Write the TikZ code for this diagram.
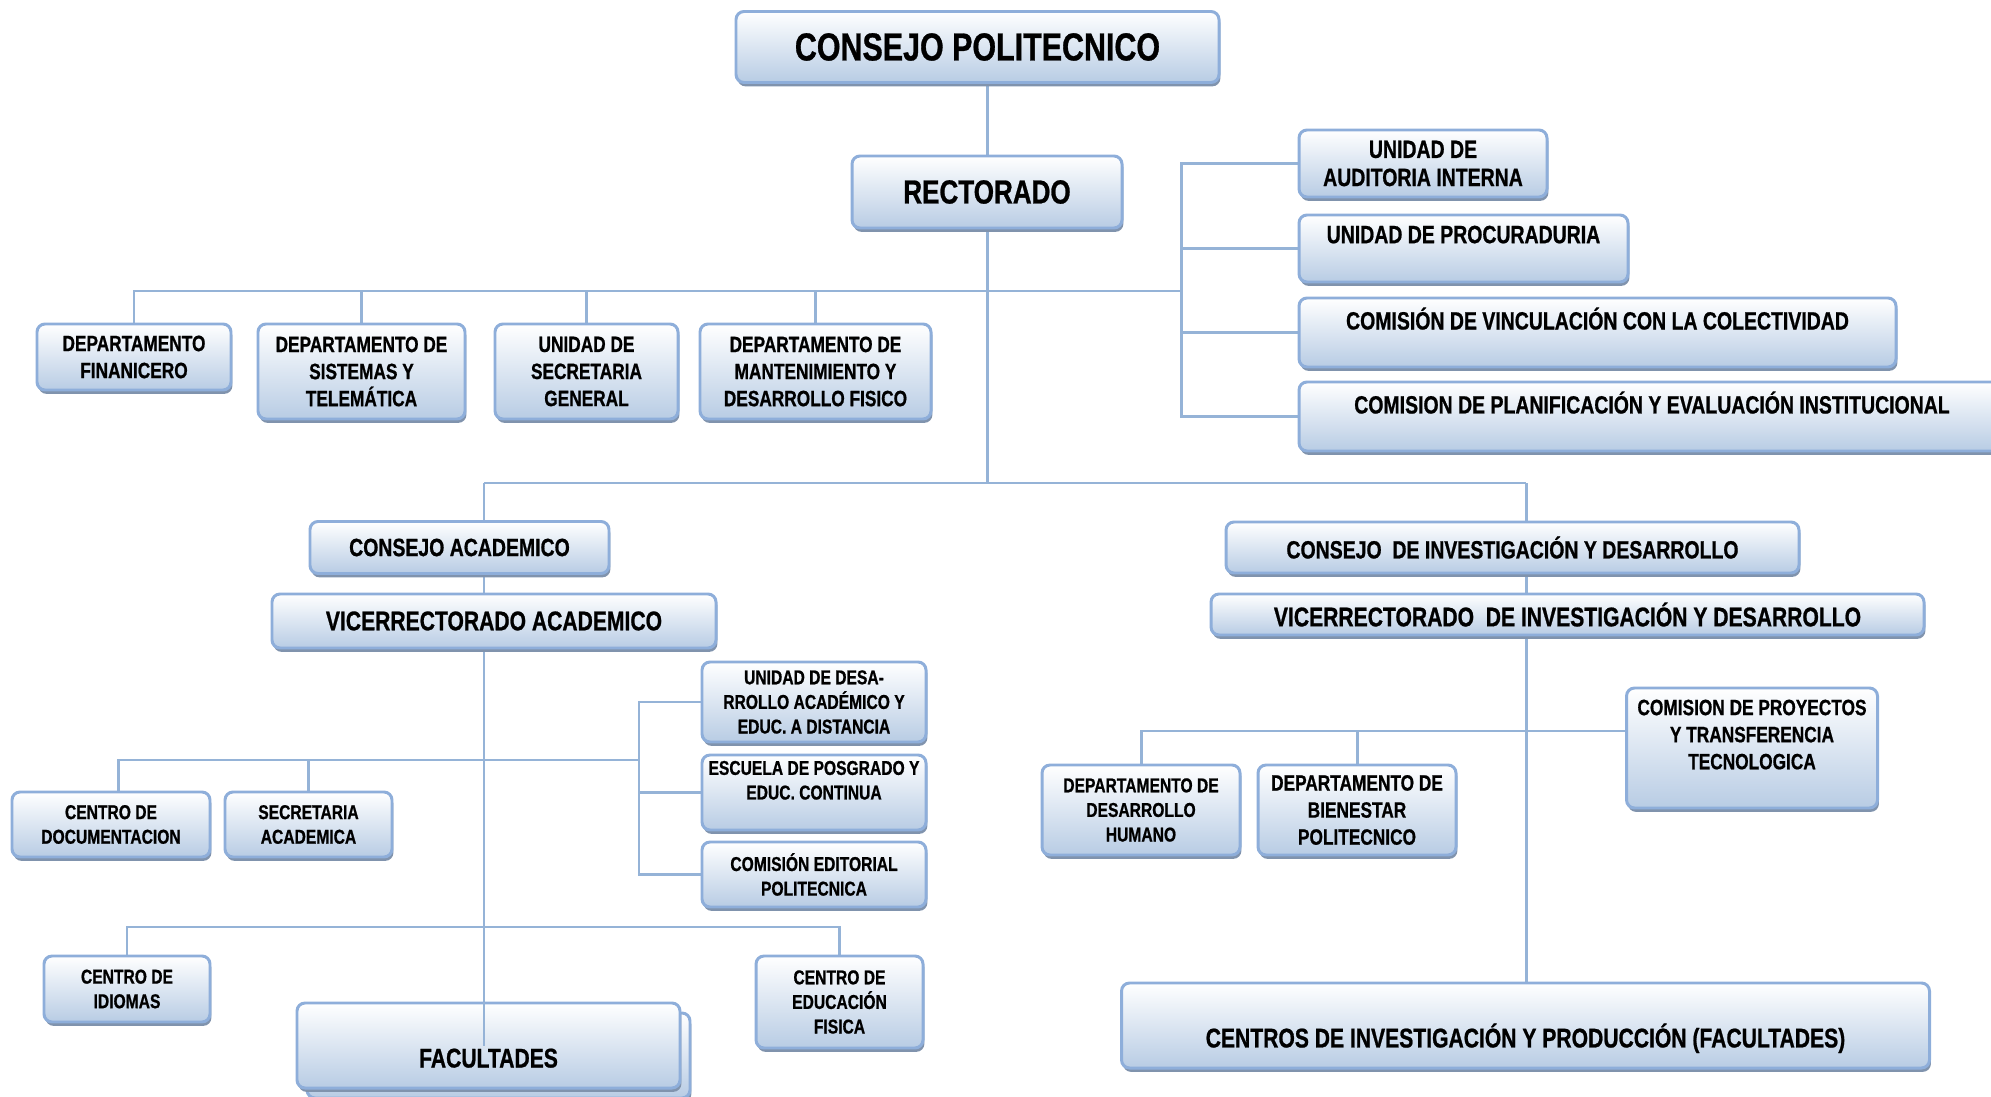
\documentclass[tikz,border=0pt]{standalone}
\usepackage{fontspec}
\setmainfont{Liberation Sans}[FakeStretch=0.78, BoldFeatures={FakeBold=0.8}]
\usetikzlibrary{shadows,backgrounds}
\definecolor{orgline}{HTML}{95B3D7}
\definecolor{orgedge}{HTML}{8EAEDA}
\definecolor{orgfill}{HTML}{B8CCE4}
\definecolor{orgshadow}{HTML}{8093AD}

\begin{document}
\begin{tikzpicture}[x=1cm, y=-1cm,
    conn/.style={draw=orgline, line width=0.85pt},
    box/.style={draw=orgedge, line width=0.85pt, rounded corners=2.3pt,
        top color=white, bottom color=orgfill,
        drop shadow={shadow xshift=0.4pt, shadow yshift=-1.1pt, fill=orgshadow, opacity=1},
        align=center, inner sep=0pt},
    sz/.style 2 args={minimum width=#1cm, minimum height=#2cm},
    ftitle/.style={font=\bfseries\fontsize{11.1}{13}\selectfont},
    frect/.style={font=\bfseries\fontsize{9.5}{11}\selectfont},
    fbig/.style={font=\bfseries\fontsize{7.7}{9}\selectfont},
    fmid/.style={font=\bfseries\fontsize{7.1}{8}\selectfont},
    fsmall/.style={font=\bfseries\fontsize{6.3}{7.7}\selectfont},
    ftiny/.style={font=\bfseries\fontsize{5.7}{7}\selectfont}]
    \useasboundingbox (0,0) rectangle (19.91,10.97);
    \clip (0,0) rectangle (19.91,10.97);

    \coordinate (rbus) at (11.81,2.91);
    \coordinate (la) at (4.84,4.83);
    \coordinate (ra) at (15.26,4.83);
    \coordinate (lb) at (6.39,7.60);
    \coordinate (lc) at (4.84,9.27);
    \coordinate (rc) at (15.26,7.31);

    \node[box, ftitle, sz={4.83}{0.71}] (cp) at (9.775,0.47) {CONSEJO POLITECNICO};
    \node[box, frect, sz={2.70}{0.72}] (rect) at (9.87,1.92) {RECTORADO};

    \node[box, fmid, sz={2.48}{0.67}] (aud) at (14.23,1.635) {UNIDAD DE\\AUDITORIA INTERNA};
    \node[box, fmid, sz={3.29}{0.67}] (proc) at (14.635,2.485) {UNIDAD DE PROCURADURIA\\\mbox{}};
    \node[box, fmid, sz={5.97}{0.69}] (vinc) at (15.975,3.325) {COMISIÓN DE VINCULACIÓN CON LA COLECTIVIDAD\\\mbox{}};
    \node[box, fmid, sz={7.06}{0.69}] (plan) at (16.52,4.165) {COMISION DE PLANIFICACIÓN Y EVALUACIÓN INSTITUCIONAL\\\mbox{}};

    \node[box, fsmall, sz={1.94}{0.66}] (fin) at (1.34,3.57) {DEPARTAMENTO\\FINANICERO};
    \node[box, fsmall, sz={2.07}{0.95}] (sist) at (3.615,3.715) {DEPARTAMENTO DE\\SISTEMAS Y\\TELEMÁTICA};
    \node[box, fsmall, sz={1.83}{0.95}] (secg) at (5.865,3.715) {UNIDAD DE\\SECRETARIA\\GENERAL};
    \node[box, fsmall, sz={2.31}{0.95}] (mant) at (8.155,3.715) {DEPARTAMENTO DE\\MANTENIMIENTO Y\\DESARROLLO FISICO};

    \node[box, fmid, sz={2.99}{0.52}] (cacad) at (4.595,5.475) {CONSEJO ACADEMICO};
    \node[box, fbig, sz={4.44}{0.54}] (vicea) at (4.94,6.21) {VICERRECTORADO ACADEMICO};
    \node[box, ftiny, sz={2.24}{0.80}] (udesa) at (8.14,7.02) {UNIDAD DE DESA-\\RROLLO ACADÉMICO Y\\EDUC. A DISTANCIA};
    \node[box, ftiny, sz={2.24}{0.75}] (escu) at (8.14,7.925) {ESCUELA DE POSGRADO Y\\EDUC. CONTINUA\\\mbox{}};
    \node[box, ftiny, sz={2.24}{0.65}] (cedit) at (8.14,8.745) {COMISIÓN EDITORIAL\\POLITECNICA};
    \node[box, ftiny, sz={1.98}{0.65}] (cdoc) at (1.11,8.245) {CENTRO DE\\DOCUMENTACION};
    \node[box, ftiny, sz={1.67}{0.65}] (secac) at (3.085,8.245) {SECRETARIA\\ACADEMICA};
    \node[box, ftiny, sz={1.66}{0.66}] (cidi) at (1.27,9.89) {CENTRO DE\\IDIOMAS};
    \node[box, ftiny, sz={1.67}{0.92}] (cedu) at (8.395,10.02) {CENTRO DE\\EDUCACIÓN\\FISICA};
    \node[box, sz={3.83}{0.85}] (facb) at (4.985,10.555) {};
    \node[box, fbig, sz={3.83}{0.85}] (fac) at (4.885,10.455) {\mbox{}\\[3.6pt]FACULTADES};

    \node[box, fmid, sz={5.73}{0.51}] (cinv) at (15.125,5.475) {CONSEJO\ \ DE INVESTIGACIÓN Y DESARROLLO};
    \node[box, fbig, sz={7.13}{0.41}] (vinv) at (15.675,6.145) {VICERRECTORADO\ \ DE INVESTIGACIÓN Y DESARROLLO};
    \node[box, ftiny, sz={1.98}{0.90}] (dhum) at (11.41,8.10) {DEPARTAMENTO DE\\DESARROLLO\\HUMANO};
    \node[box, fsmall, sz={1.98}{0.90}] (dbien) at (13.57,8.10) {DEPARTAMENTO DE\\BIENESTAR\\POLITECNICO};
    \node[box, fsmall, sz={2.51}{1.20}] (cproy) at (17.52,7.48) {COMISION DE PROYECTOS\\Y TRANSFERENCIA\\TECNOLOGICA\\\mbox{}};
    \node[box, fbig, sz={8.08}{0.85}] (ccent) at (15.255,10.255) {\mbox{}\\[5.1pt]CENTROS DE INVESTIGACIÓN Y PRODUCCIÓN (FACULTADES)};

    \begin{scope}[on background layer]
        \draw[conn] (rect.north) -- (rect.north |- cp.south);
        \draw[conn] (rect.south) -- (rect.south |- la);
        \draw[conn] (la) -- (ra);
        \draw[conn] (la) -- (la |- fac.north);
        \draw[conn] (ra) -- (ra |- ccent.north);
        \draw[conn] (fin.north) |- (rbus);
        \foreach \n in {sist,secg,mant}
            \draw[conn] (\n.north) -- (\n.north |- rbus);
        \draw[conn] (aud.west) -| (rbus) |- (plan.west);
        \foreach \n in {proc,vinc}
            \draw[conn] (\n.west) -- (\n.west -| rbus);
        \draw[conn] ([xshift=2.2pt]cdoc.north) |- (lb);
        \draw[conn] (secac.north) -- (secac.north |- lb);
        \draw[conn] (udesa.west) -| (lb) |- (cedit.west);
        \draw[conn] (escu.west) -- (escu.west -| lb);
        \draw[conn] (cidi.north) |- (lc) -| (cedu.north);
        \draw[conn] (dhum.north) |- (rc) -- (rc -| cproy.west);
        \draw[conn] (dbien.north) -- (dbien.north |- rc);
    \end{scope}
    \draw[conn] (la |- fac.north) -- (la |- fac.center);
\end{tikzpicture}
\end{document}
